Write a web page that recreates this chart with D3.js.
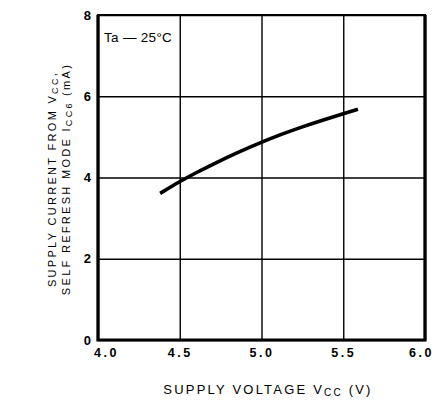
<!DOCTYPE html>
<html>
<head>
<meta charset="utf-8">
<script src="https://cdn.jsdelivr.net/npm/d3@7"></script>
<style>
  html, body { margin: 0; padding: 0; background: #fff; }
  svg { display: block; }
  text { font-family: "Liberation Sans", Arial, sans-serif; fill: #000; }
</style>
</head>
<body>
<svg id="chart" width="439" height="408"></svg>
<script>
// Self-refresh supply current vs. supply voltage (Ta = 25°C)
const voltage = [4.38, 4.5, 4.6, 4.72, 4.85, 5.0, 5.12, 5.25, 5.38, 5.5, 5.59];
const current = [3.61, 3.90, 4.12, 4.36, 4.61, 4.87, 5.06, 5.25, 5.42, 5.57, 5.68];

const xTicks = [4.0, 4.5, 5.0, 5.5, 6.0];
const yTicks = [0, 2, 4, 6, 8];

const margin = { left: 98, top: 15, right: 14, bottom: 68 };
const W = 439, H = 408;
const w = W - margin.left - margin.right;
const h = H - margin.top - margin.bottom;

const svg = d3.select("#chart");
const g = svg.append("g").attr("transform", `translate(${margin.left},${margin.top})`);

const x = d3.scaleLinear().domain([4, 6]).range([0, w]);
const y = d3.scaleLinear().domain([0, 8]).range([h, 0]);

// Vertical grid lines + x tick labels
const xAxis = g.append("g")
  .attr("transform", `translate(0,${h})`)
  .call(d3.axisBottom(x).tickValues(xTicks).tickSize(-h).tickPadding(8).tickFormat(d3.format(".1f")));
xAxis.select(".domain").remove();
xAxis.selectAll(".tick line").attr("stroke", "#000").attr("stroke-width", 1.4);
xAxis.selectAll(".tick text")
  .attr("font-size", 12.5).attr("font-weight", "bold")
  .style("letter-spacing", "2.5px")
  .attr("dx", (d, i) => i === 0 ? 8 : (i === xTicks.length - 1 ? -4 : 0));

// Horizontal grid lines + y tick labels
const yAxis = g.append("g")
  .call(d3.axisLeft(y).tickValues(yTicks).tickSize(-w).tickPadding(7).tickFormat(d3.format("d")));
yAxis.select(".domain").remove();
yAxis.selectAll(".tick line").attr("stroke", "#000").attr("stroke-width", 1.4);
yAxis.selectAll(".tick text").attr("font-size", 13).attr("font-weight", "bold");

// Frame
g.append("path")
  .attr("d", `M0,0H${w}V${h}H0Z`)
  .attr("fill", "none").attr("stroke", "#000").attr("stroke-width", 2.2);
g.append("path")
  .attr("d", `M0,0V${h}H${w}V0`)
  .attr("fill", "none").attr("stroke", "#000").attr("stroke-width", 3.2);

// Curve
const data = voltage.map((v, i) => [v, current[i]]);
g.append("path")
  .datum(data)
  .attr("fill", "none").attr("stroke", "#000").attr("stroke-width", 3.6)
  .attr("stroke-linecap", "butt")
  .attr("d", d3.line().x(d => x(d[0])).y(d => y(d[1])).curve(d3.curveBasis));

// Condition label
g.append("text")
  .attr("x", 6).attr("y", 27)
  .attr("font-size", 13.5)
  .style("letter-spacing", "0.3px")
  .text("Ta — 25°C");

// X axis title
const xt = svg.append("text")
  .attr("x", 268).attr("y", 394)
  .attr("text-anchor", "middle")
  .attr("font-size", 13)
  .style("letter-spacing", "2.2px");
xt.append("tspan").text("SUPPLY VOLTAGE V");
xt.append("tspan").attr("font-size", 10).attr("dy", 2).text("CC");
xt.append("tspan").attr("dy", -2).text(" (V)");

// Y axis title (two lines)
const yt = svg.append("g").attr("transform", "translate(0,179) rotate(-90)");
const l1 = yt.append("text")
  .attr("x", 0).attr("y", 56)
  .attr("text-anchor", "middle")
  .attr("font-size", 11)
  .style("letter-spacing", "2.3px");
l1.append("tspan").text("SUPPLY CURRENT FROM V");
l1.append("tspan").attr("font-size", 9).attr("dy", 1.5).text("CC");
l1.append("tspan").attr("dy", -1.5).text(",");
const l2 = yt.append("text")
  .attr("x", 0).attr("y", 70)
  .attr("text-anchor", "middle")
  .attr("font-size", 11)
  .style("letter-spacing", "2.3px");
l2.append("tspan").text("SELF REFRESH MODE I");
l2.append("tspan").attr("font-size", 9).attr("dy", 1.5).text("CC6");
l2.append("tspan").attr("dy", -1.5).text(" (mA)");
</script>
</body>
</html>
